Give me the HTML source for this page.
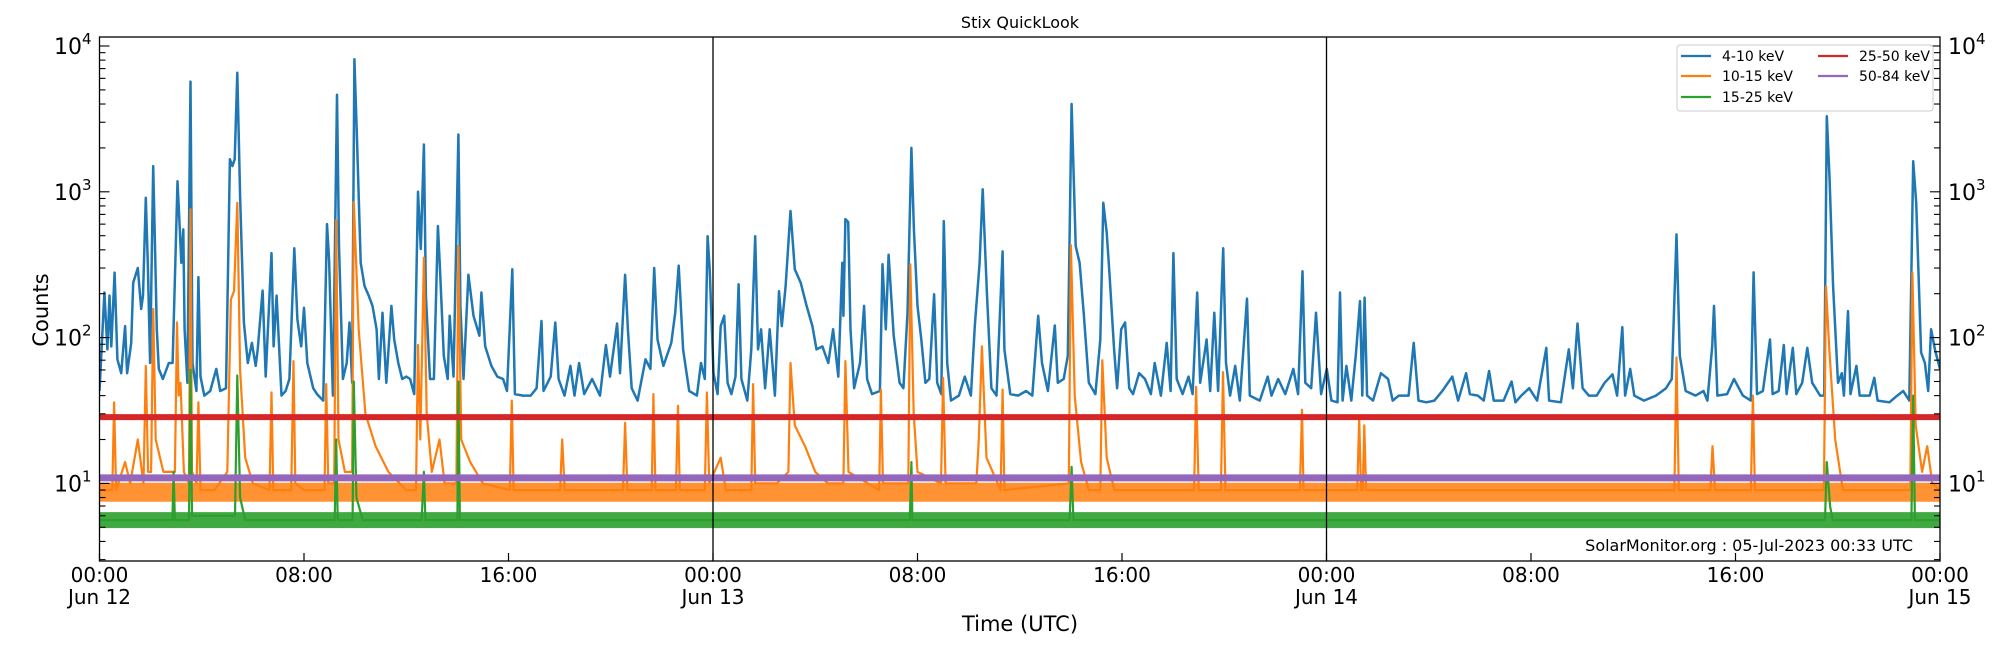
<!DOCTYPE html>
<html><head><meta charset="utf-8"><title>Stix QuickLook</title>
<style>
html,body{margin:0;padding:0;background:#fff;}
svg text{font-family:"DejaVu Sans","Liberation Sans",sans-serif;}
</style></head>
<body>
<svg id="chart" width="2000" height="650" viewBox="0 0 2000 650" xmlns="http://www.w3.org/2000/svg">
  <rect x="0" y="0" width="2000" height="650" fill="#fff"/>
  <text x="1020" y="28" font-size="16" text-anchor="middle">Stix QuickLook</text>
  <g id="series"></g>
  <g id="axes"></g>
  <text x="0" y="0" font-size="21" text-anchor="middle" transform="translate(48,310) rotate(-90)">Counts</text>
  <text x="1020" y="631" font-size="21" text-anchor="middle">Time (UTC)</text>
  <text x="1913" y="551" font-size="16" text-anchor="end">SolarMonitor.org : 05-Jul-2023 00:33 UTC</text>
  <g id="legend">
    <rect x="1677" y="45" width="256" height="66" rx="3" fill="#fff" fill-opacity="0.85" stroke="#ccc" stroke-width="1"/>
  </g>
</svg>
<script>
const blue = [[0,43],[0.19,204],[0.31,83],[0.39,194],[0.46,87],[0.59,279],[0.7,71],[0.85,57],[1.0,120],[1.08,57],[1.24,92],[1.32,238],[1.5,300],[1.63,157],[1.7,194],[1.81,910],[1.89,326],[1.98,67],[2.1,1500],[2.17,424],[2.24,114],[2.32,61],[2.48,52],[2.71,67],[2.86,67],[2.97,340],[3.05,1180],[3.14,552],[3.2,326],[3.28,552],[3.33,114],[3.44,49],[3.56,5700],[3.64,67],[3.79,43],[3.87,260],[3.95,54],[4.1,40],[4.33,43],[4.57,61],[4.72,43],[4.95,45],[5.1,1670],[5.2,1500],[5.29,1670],[5.39,6550],[5.5,935],[5.65,127],[5.8,67],[5.96,92],[6.11,64],[6.19,83],[6.38,210],[6.5,54],[6.73,380],[6.81,87],[6.93,194],[7.12,40],[7.28,43],[7.43,52],[7.62,410],[7.74,133],[7.89,87],[8.0,160],[8.13,67],[8.36,45],[8.51,41],[8.75,37],[8.9,600],[8.98,340],[9.13,40],[9.29,4630],[9.37,424],[9.52,52],[9.67,67],[9.78,127],[9.88,49],[9.97,8100],[10.06,2670],[10.22,326],[10.37,225],[10.53,194],[10.68,165],[10.84,114],[10.93,52],[11.07,148],[11.22,49],[11.42,165],[11.53,97],[11.69,67],[11.84,52],[12.0,54],[12.15,52],[12.31,41],[12.46,1000],[12.57,405],[12.69,2110],[12.77,194],[12.93,52],[13.08,52],[13.24,582],[13.31,326],[13.47,75],[13.62,52],[13.7,141],[13.85,54],[14.04,2470],[14.12,165],[14.24,52],[14.43,270],[14.63,141],[14.86,103],[14.94,204],[15.09,87],[15.33,64],[15.56,54],[15.79,52],[15.94,43],[16.15,294],[16.25,41],[16.56,40],[16.87,40],[17.1,45],[17.29,130],[17.37,43],[17.65,54],[17.83,127],[17.96,52],[18.19,40],[18.42,64],[18.58,40],[18.76,67],[18.96,41],[19.27,52],[19.58,40],[19.81,89],[19.97,54],[20.25,125],[20.36,57],[20.56,270],[20.67,114],[20.82,45],[21.05,37],[21.36,71],[21.55,61],[21.7,300],[21.83,97],[22.06,64],[22.37,92],[22.52,148],[22.66,312],[22.83,83],[23.07,43],[23.37,40],[23.53,67],[23.68,52],[23.79,496],[23.87,294],[24.02,57],[24.18,41],[24.3,120],[24.44,141],[24.57,49],[24.72,41],[24.88,54],[25.0,232],[25.11,52],[25.34,37],[25.5,83],[25.65,496],[25.76,83],[25.88,114],[26.04,45],[26.22,114],[26.42,40],[26.58,208],[26.69,120],[26.84,225],[27.03,738],[27.2,294],[27.43,238],[27.66,165],[27.89,120],[28.05,83],[28.28,87],[28.51,67],[28.7,114],[28.9,54],[29.06,326],[29.1,141],[29.18,650],[29.29,620],[29.38,114],[29.52,45],[29.75,67],[29.91,165],[30.03,52],[30.22,41],[30.53,43],[30.63,318],[30.76,114],[30.87,370],[31.07,103],[31.3,49],[31.45,45],[31.61,148],[31.76,2000],[31.86,552],[32.0,165],[32.15,97],[32.31,49],[32.46,52],[32.65,198],[32.77,49],[32.93,41],[33.03,630],[33.16,67],[33.31,37],[33.62,40],[33.85,54],[34.09,40],[34.24,120],[34.43,326],[34.55,1040],[34.71,210],[34.89,45],[35.09,40],[35.33,390],[35.4,83],[35.63,41],[35.94,40],[36.25,43],[36.49,40],[36.72,141],[36.87,67],[37.1,43],[37.37,121],[37.49,49],[37.72,52],[37.88,75],[38.03,4000],[38.19,424],[38.34,326],[38.5,148],[38.7,49],[38.96,41],[39.15,97],[39.27,840],[39.4,525],[39.5,294],[39.69,83],[39.81,45],[39.97,114],[40.12,127],[40.28,45],[40.43,41],[40.67,57],[40.9,52],[41.13,41],[41.28,67],[41.52,40],[41.75,92],[41.9,43],[42.01,380],[42.14,52],[42.37,41],[42.6,54],[42.76,41],[42.94,204],[43.06,49],[43.31,97],[43.45,43],[43.61,148],[43.76,43],[43.96,410],[44.07,67],[44.23,40],[44.43,64],[44.61,37],[44.89,185],[45.0,40],[45.39,37],[45.7,54],[45.85,40],[46.11,52],[46.39,41],[46.7,61],[46.89,41],[47.06,285],[47.17,49],[47.4,45],[47.59,148],[47.79,41],[48.01,61],[48.19,37],[48.43,36],[48.53,204],[48.63,37],[48.78,64],[48.97,37],[49.15,77],[49.31,178],[49.4,40],[49.49,188],[49.59,40],[49.82,37],[50.13,57],[50.41,52],[50.59,37],[50.83,40],[51.21,40],[51.41,92],[51.6,37],[51.91,36],[52.22,37],[52.53,43],[52.92,54],[53.15,37],[53.46,57],[53.61,41],[53.92,40],[54.15,37],[54.36,59],[54.54,37],[54.93,37],[55.24,50],[55.39,36],[55.62,40],[55.93,45],[56.24,37],[56.6,85],[56.71,37],[57.17,36],[57.48,83],[57.64,45],[57.82,125],[58.02,45],[58.26,40],[58.57,40],[58.88,49],[59.19,56],[59.37,40],[59.57,118],[59.68,40],[59.88,61],[60.04,40],[60.42,37],[60.89,40],[61.28,45],[61.51,52],[61.69,510],[61.82,75],[62.05,43],[62.44,40],[62.75,43],[62.9,37],[63.09,87],[63.16,165],[63.29,40],[63.67,41],[63.94,52],[64.29,40],[64.6,37],[64.71,280],[64.84,41],[65.07,43],[65.35,97],[65.45,41],[65.69,43],[65.89,89],[66.0,41],[66.24,85],[66.38,41],[66.61,49],[66.81,85],[67.0,49],[67.31,40],[67.47,40],[67.57,3300],[67.68,1215],[67.82,225],[68.01,49],[68.16,57],[68.24,40],[68.4,152],[68.5,41],[68.73,64],[68.86,40],[69.25,40],[69.43,53],[69.56,37],[70.02,36],[70.33,40],[70.56,43],[70.8,37],[70.95,1620],[71.07,840],[71.26,79],[71.41,67],[71.54,43],[71.65,114],[71.8,83],[72,61]];
const orange = [[0,9],[0.5,9],[0.57,36],[0.65,9],[1.0,14],[1.2,10],[1.5,20],[1.72,10],[1.81,64],[1.9,12],[2.02,12],[2.1,157],[2.2,20],[2.5,12],[2.95,12],[3.03,127],[3.1,40],[3.17,49],[3.3,12],[3.5,10],[3.56,760],[3.62,12],[3.8,10],[3.87,36],[3.95,9],[4.5,9],[5.0,12],[5.14,183],[5.26,208],[5.39,840],[5.5,60],[5.7,15],[6.0,10],[6.65,9],[6.73,42],[6.8,9],[7.5,9],[7.59,69],[7.66,10],[8.0,9],[8.8,9],[8.87,48],[8.95,10],[9.18,10],[9.26,640],[9.35,20],[9.6,12],[9.88,12],[9.95,850],[10.14,114],[10.4,30],[10.8,18],[11.3,12],[12.0,9],[12.38,9],[12.46,89],[12.55,20],[12.69,353],[12.8,30],[13.0,12],[13.3,20],[13.5,10],[13.96,10],[14.04,424],[14.15,20],[14.5,14],[15.0,10],[16.05,9],[16.13,37],[16.2,9],[18.02,9],[18.1,20],[18.2,9],[20.48,9],[20.56,26],[20.65,9],[21.6,9],[21.67,41],[21.75,9],[22.55,9],[22.63,34],[22.7,9],[23.68,9],[23.76,42],[23.85,10],[24.3,15],[24.5,9],[25.5,9],[25.57,48],[25.65,10],[26.5,10],[26.95,12],[27.03,67],[27.2,25],[27.6,18],[28.0,12],[28.5,10],[29.1,10],[29.18,69],[29.3,12],[30.5,9],[30.57,44],[30.65,10],[31.64,10],[31.72,318],[31.85,30],[32.0,12],[32.92,10],[33.0,53],[33.1,10],[34.3,10],[34.4,20],[34.52,87],[34.7,15],[35.25,9],[35.33,44],[35.4,9],[37.92,10],[38.0,430],[38.15,40],[38.4,14],[38.7,9],[39.15,9],[39.23,70],[39.4,15],[39.7,9],[42.82,9],[42.9,46],[43.0,9],[43.87,9],[43.95,58],[44.05,9],[46.96,9],[47.04,32],[47.1,9],[49.2,9],[49.28,28],[49.35,9],[49.42,9],[49.48,25],[49.55,9],[61.61,9],[61.69,73],[61.78,9],[63.02,9],[63.1,18],[63.2,9],[64.6,9],[64.68,40],[64.76,9],[67.46,9],[67.54,225],[67.67,83],[67.9,20],[68.2,9],[70.84,9],[70.92,280],[71.05,25],[71.3,12],[71.5,18],[71.7,10],[72,9]];
const green = [[0,5.6],[2.85,5.6],[2.9,12],[2.95,5.6],[3.5,5.6],[3.56,60],[3.62,6],[5.3,6],[5.39,55],[5.5,8],[5.7,5.6],[9.2,5.6],[9.26,20],[9.32,5.6],[9.9,5.6],[9.95,50],[10.05,8],[10.3,5.6],[12.6,5.6],[12.69,12],[12.75,5.6],[14.0,5.6],[14.04,50],[14.1,5.6],[31.7,5.6],[31.76,14],[31.8,5.6],[37.95,5.6],[38.03,13],[38.1,5.6],[67.5,5.6],[67.57,14],[67.7,7],[67.8,5.6],[70.88,5.6],[70.95,40],[71.02,5.6],[72,5.6]];
const orangeBand = [[0,8.7],[72,8.7]];
const greenBand = [[0,5.6],[72,5.6]];
const red = [[0,28.5],[72,28.5]];
const purple = [[0,10.9],[72,10.9]];
const xTickHours = [0,8,16,24,32,40,48,56,64,72];
const xTickLabels = ["00:00","08:00","16:00","00:00","08:00","16:00","00:00","08:00","16:00","00:00"];
const xTickDates = ["Jun 12","","","Jun 13","","","Jun 14","","","Jun 15"];
const dayLines = [24,48];
const yMajor = [1,2,3,4];
const legendNames = ["4-10 keV","10-15 keV","15-25 keV","25-50 keV","50-84 keV"];
const legendColors = ["#1f77b4","#ff7f0e","#2ca02c","#d62728","#9467bd"];

const L=99.5,R=1940,T=37,B=561;
const Y1=483.4, DEC=145.8;
function xs(h){return L+h/72*(R-L);}
function ys(v){return Y1-(Math.log10(v)-1)*DEC;}
const NS="http://www.w3.org/2000/svg";
function mk(tag,attrs,parent){const e=document.createElementNS(NS,tag);for(const k in attrs)e.setAttribute(k,attrs[k]);parent.appendChild(e);return e;}
const S=document.getElementById('series'), A=document.getElementById('axes'), LG=document.getElementById('legend');
function pts(arr){return arr.map(p=>xs(p[0]).toFixed(1)+","+ys(p[1]).toFixed(1)).join(" ");}
mk('clipPath',{id:'clip'},S).appendChild(document.createElementNS(NS,'rect'));
const cr=S.querySelector('clipPath rect');cr.setAttribute('x',L);cr.setAttribute('y',T);cr.setAttribute('width',R-L);cr.setAttribute('height',B-T);
const g=mk('g',{'clip-path':'url(#clip)'},S);
function line(arr,color,w,name,op){
  const p=mk('polyline',{points:pts(arr),fill:'none',stroke:color,'stroke-width':w,'stroke-linejoin':'round','stroke-opacity':op||1},g);
  
  
}
line(blue,'#1f77b4',2.5,'series-4-10kev');
line(orangeBand,'#ff7f0e',19,'series-10-15kev-band',0.85);
line(orange,'#ff7f0e',2.2,'series-10-15kev');
line(greenBand,'#2ca02c',16,'series-15-25kev-band',0.9);
line(green,'#2ca02c',2.2,'series-15-25kev');
line(red,'#d62728',6,'series-25-50kev');
line(purple,'#9467bd',7,'series-50-84kev');

dayLines.forEach(h=>{
  const l=mk('line',{x1:xs(h),x2:xs(h),y1:T,y2:B,stroke:'#000','stroke-width':1.3},A);
  
  
});
const fr=mk('rect',{x:L,y:T,width:R-L,height:B-T,fill:'none',stroke:'#000','stroke-width':1.3},A);


xTickHours.forEach((h,i)=>{
  const x=xs(h);
  const t=mk('line',{x1:x,x2:x,y1:B,y2:B-8,stroke:'#000','stroke-width':1.2},A);
  
  
  const tx=mk('text',{x:x,y:582,'font-size':20,'text-anchor':'middle'},A);
  tx.textContent=xTickLabels[i];
  
  
  if(xTickDates[i]){
    const d=mk('text',{x:x,y:604,'font-size':20,'text-anchor':'middle'},A);
    d.textContent=xTickDates[i];
    
    
  }
});
for(let e=0;e<=4;e++){
  for(let m=1;m<10;m++){
    const v=m*Math.pow(10,e);
    const y=ys(v);
    if(y<T||y>B)continue;
    const major=(m===1);
    const len=major?10:6;
    [[L,L+len],[R,R-len]].forEach(([a,b])=>{
      const t=mk('line',{x1:a,x2:b,y1:y,y2:y,stroke:'#000','stroke-width':1.1},A);
      
      
    });
  }
}
yMajor.forEach(k=>{
  const y=ys(Math.pow(10,k));
  [[L-8,'end'],[R+8,'start']].forEach(([x,anc])=>{
    const t=mk('text',{x:x,y:y+8,'font-size':22,'text-anchor':anc},A);
    
    
    t.appendChild(document.createTextNode('10'));
    const s=document.createElementNS(NS,'tspan');
    s.setAttribute('dy','-10');s.setAttribute('font-size','15');
    s.textContent=String(k);
    t.appendChild(s);
  });
});
const lx=[1681,1818], ly=[56,76,97];
legendNames.forEach((n,i)=>{
  const col=i<3?0:1,row=i<3?i:i-3;
  const ln=mk('line',{x1:lx[col],x2:lx[col]+30,y1:ly[row],y2:ly[row],stroke:legendColors[i],'stroke-width':2.2},LG);
  
  
  const t=mk('text',{x:lx[col]+41,y:ly[row]+5,'font-size':14},LG);
  t.textContent=n;
  
  
});
</script>
</body></html>
